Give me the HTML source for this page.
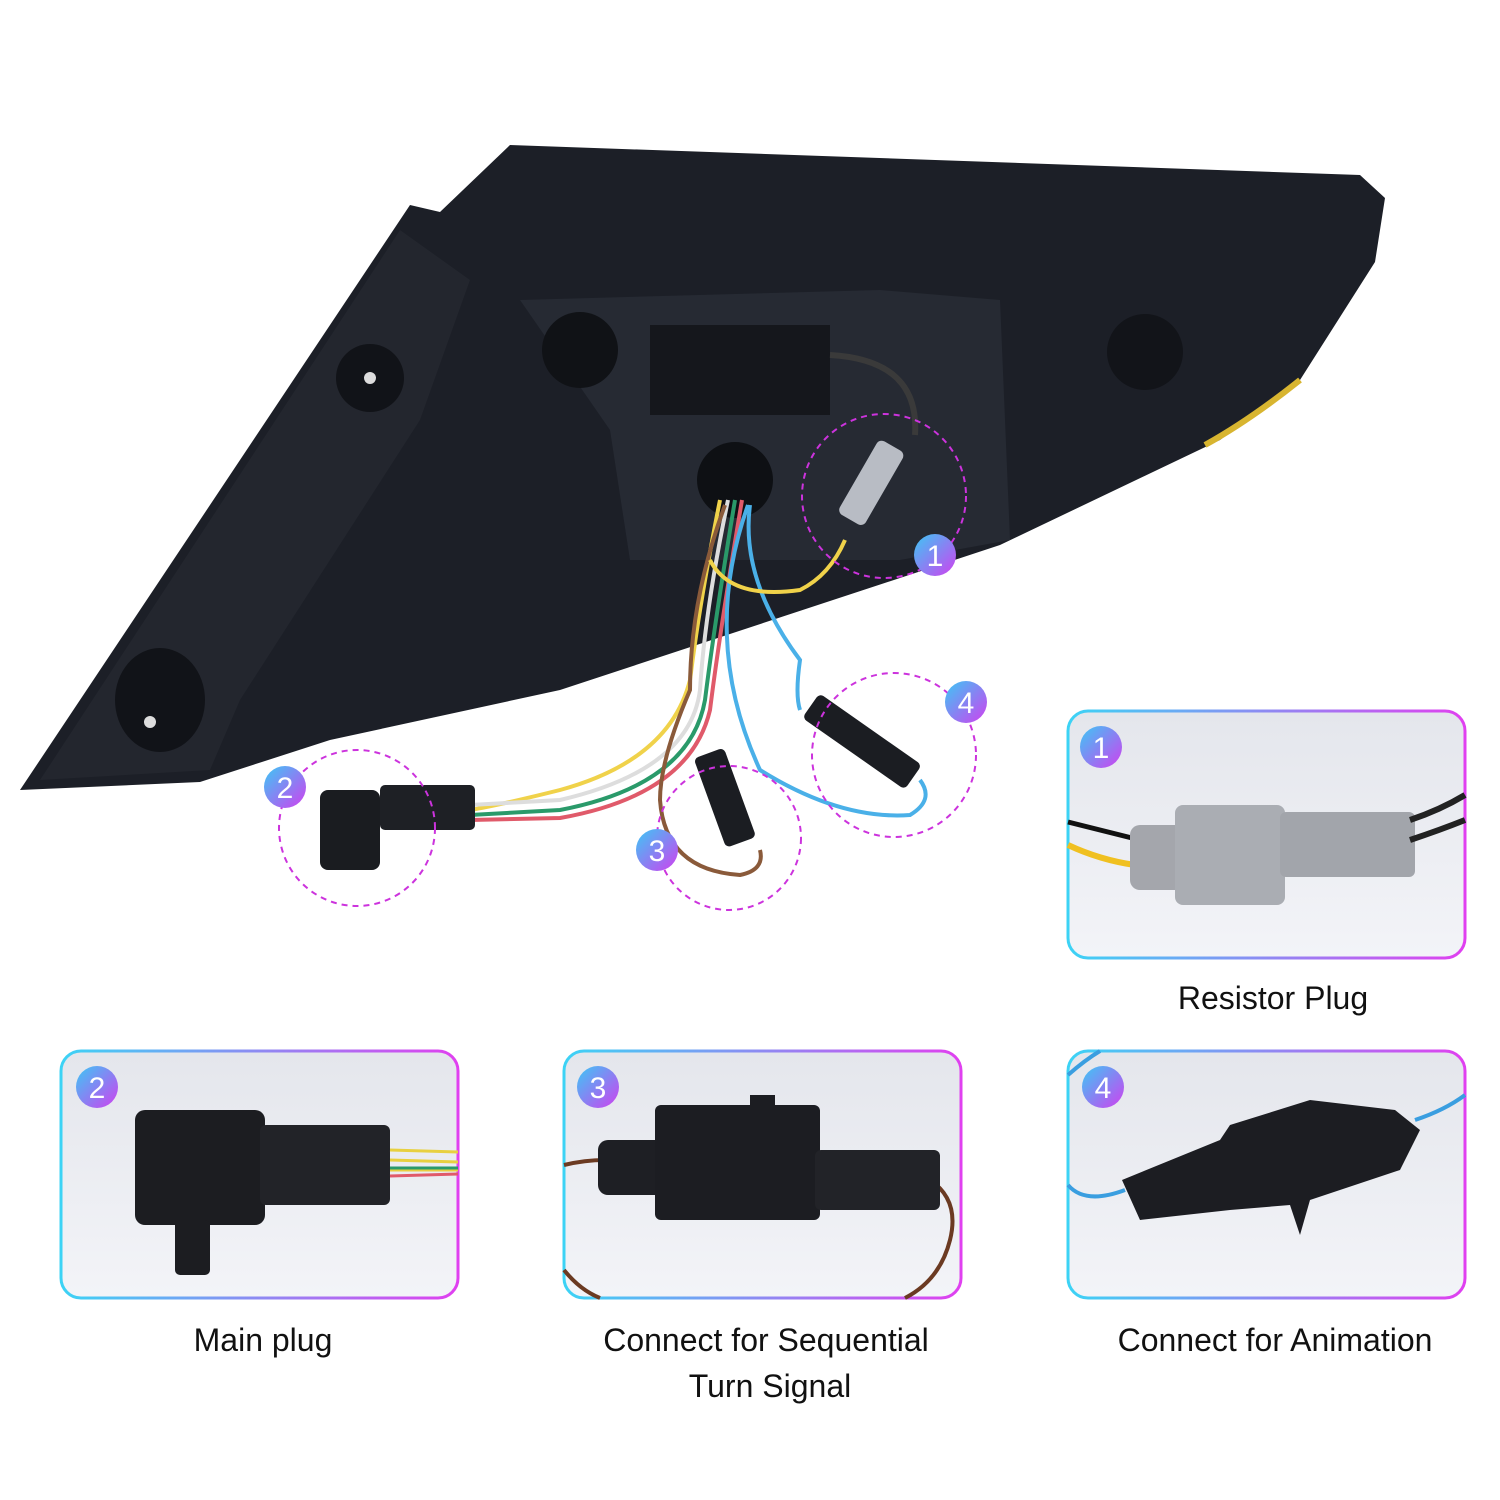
<!DOCTYPE html>
<html><head><meta charset="utf-8"><style>
html,body{margin:0;padding:0;background:#fff;}
svg{display:block}
text{font-family:"Liberation Sans","DejaVu Sans",sans-serif;}
</style></head><body>
<svg width="1500" height="1500" viewBox="0 0 1500 1500" xmlns="http://www.w3.org/2000/svg">
<defs>
<linearGradient id="bd" x1="0" y1="0" x2="1" y2="0"><stop offset="0" stop-color="#3cd3f5"/><stop offset="1" stop-color="#e040f0"/></linearGradient>
<linearGradient id="bg" x1="0" y1="0" x2="1" y2="1"><stop offset="0" stop-color="#3cc8f5"/><stop offset="1" stop-color="#d040f0"/></linearGradient>
<linearGradient id="pn" x1="0" y1="0" x2="0" y2="1"><stop offset="0" stop-color="#e4e6ec"/><stop offset="1" stop-color="#f3f4f8"/></linearGradient>
<g id="badge"><circle r="21" fill="url(#bg)"/></g>
</defs>
<rect width="1500" height="1500" fill="#fff"/>
<!-- tail light body -->
<polygon points="20,790 410,205 440,212 510,145 1360,175 1385,198 1375,262 1300,380 1220,440 1000,545 560,690 330,740 200,782" fill="#1c1f27"/>
<polygon points="40,780 400,230 470,280 420,420 240,700 210,770" fill="#23262e"/>
<polygon points="520,300 880,290 1000,300 1010,540 900,560 630,560 610,430" fill="#262a33"/>
<rect x="650" y="325" width="180" height="90" fill="#15171c"/>
<circle cx="580" cy="350" r="38" fill="#101216"/>
<circle cx="1145" cy="352" r="38" fill="#121419"/>
<circle cx="370" cy="378" r="34" fill="#111318"/>
<circle cx="370" cy="378" r="6" fill="#ddd"/>
<ellipse cx="160" cy="700" rx="45" ry="52" fill="#111318"/>
<circle cx="150" cy="722" r="6" fill="#ddd"/>
<circle cx="735" cy="480" r="38" fill="#0e1014"/>
<path d="M1300,380 Q1250,420 1205,445" stroke="#d8b530" stroke-width="6" fill="none"/>
<!-- wires -->
<g fill="none" stroke-width="4">
<path d="M720,500 Q700,600 690,680 Q670,760 560,790 Q500,805 470,810" stroke="#f0d24a"/>
<path d="M728,500 Q705,610 700,690 Q690,770 560,800 L470,805" stroke="#ddd"/>
<path d="M735,500 Q715,620 705,700 Q690,785 560,810 L470,815" stroke="#2a9a6a"/>
<path d="M742,500 Q720,630 710,710 Q690,795 560,818 L470,820" stroke="#e05a6a"/>
<path d="M725,505 Q690,600 690,690 Q660,760 660,800 Q665,870 740,875 Q765,870 760,850" stroke="#8a5a3a"/>
<path d="M748,505 Q700,640 760,770 Q840,820 910,815 Q935,800 920,780" stroke="#4ab0e8"/>
<path d="M750,505 Q740,580 800,660 Q795,695 800,710" stroke="#4ab0e8"/>
<path d="M710,560 Q730,600 800,590 Q830,575 845,540" stroke="#f0d24a"/>
<path d="M830,355 Q920,360 915,435" stroke="#3a3a3a" stroke-width="6"/>
</g>
<!-- connectors on main -->
<g transform="rotate(-60 870 485)"><rect x="830" y="470" width="85" height="30" rx="6" fill="#b8bcc4"/></g>
<rect x="320" y="790" width="60" height="80" rx="8" fill="#1a1c20"/>
<rect x="380" y="785" width="95" height="45" rx="5" fill="#1e2025"/>
<g transform="rotate(70 725 795)"><rect x="680" y="780" width="95" height="32" rx="5" fill="#1b1d22"/></g>
<g transform="rotate(35 860 740)"><rect x="800" y="725" width="125" height="30" rx="5" fill="#1b1d22"/></g>
<!-- dashed circles -->
<g fill="none" stroke="#cc33dd" stroke-width="2" stroke-dasharray="6,5">
<circle cx="884" cy="496" r="82"/><circle cx="357" cy="828" r="78"/><circle cx="729" cy="838" r="72"/><circle cx="894" cy="755" r="82"/>
</g>
<!-- panels -->
<g stroke="url(#bd)" stroke-width="3" fill="url(#pn)">
<rect x="1068" y="711" width="397" height="247" rx="20"/>
<rect x="61" y="1051" width="397" height="247" rx="20"/>
<rect x="564" y="1051" width="397" height="247" rx="20"/>
<rect x="1068" y="1051" width="397" height="247" rx="20"/>
</g>
<!-- panel 1 content -->
<path d="M1068,822 Q1100,830 1140,840" stroke="#111" stroke-width="5" fill="none"/>
<path d="M1068,845 Q1100,860 1135,865" stroke="#f0c020" stroke-width="6" fill="none"/>
<rect x="1130" y="825" width="60" height="65" rx="10" fill="#a4a6ac"/>
<rect x="1175" y="805" width="110" height="100" rx="8" fill="#aaadb3"/>
<rect x="1280" y="812" width="135" height="65" rx="6" fill="#a2a5ab"/>
<path d="M1410,820 Q1440,810 1465,795 M1410,840 Q1440,830 1465,820" stroke="#222" stroke-width="6" fill="none"/>
<!-- panel 2 -->
<rect x="135" y="1110" width="130" height="115" rx="10" fill="#1c1d21"/>
<rect x="260" y="1125" width="130" height="80" rx="6" fill="#222328"/>
<rect x="175" y="1220" width="35" height="55" rx="5" fill="#1c1d21"/>
<path d="M390,1150 L458,1152 M390,1160 L458,1162 M390,1170 L458,1170" stroke="#e8d040" stroke-width="3"/>
<path d="M390,1168 L458,1168" stroke="#2a9a6a" stroke-width="3"/><path d="M390,1176 L458,1174" stroke="#e05a6a" stroke-width="3"/>
<!-- panel 3 -->
<path d="M564,1165 Q585,1160 605,1160" stroke="#6b3a22" stroke-width="4" fill="none"/>
<path d="M930,1180 Q960,1200 950,1240 Q940,1280 905,1298" stroke="#6b3a22" stroke-width="4" fill="none"/>
<path d="M564,1270 Q580,1290 600,1298" stroke="#6b3a22" stroke-width="4" fill="none"/>
<rect x="598" y="1140" width="70" height="55" rx="10" fill="#1e1f24"/>
<rect x="655" y="1105" width="165" height="115" rx="6" fill="#1c1d22"/>
<rect x="750" y="1095" width="25" height="50" fill="#1c1d22"/>
<rect x="815" y="1150" width="125" height="60" rx="6" fill="#222328"/>
<!-- panel 4 -->
<path d="M1068,1185 Q1085,1205 1125,1190 M1415,1120 Q1445,1110 1465,1095 M1068,1075 Q1085,1060 1100,1051" stroke="#3a9ee0" stroke-width="4" fill="none"/>
<polygon points="1122,1180 1220,1140 1230,1125 1310,1100 1395,1110 1420,1130 1400,1170 1310,1200 1300,1235 1290,1205 1230,1210 1140,1220" fill="#1c1d22"/>
<!-- badges -->
<g font-size="30" fill="#fff" text-anchor="middle">
<use href="#badge" x="935" y="555"/><text x="935" y="566">1</text>
<use href="#badge" x="285" y="787"/><text x="285" y="798">2</text>
<use href="#badge" x="657" y="850"/><text x="657" y="861">3</text>
<use href="#badge" x="966" y="702"/><text x="966" y="713">4</text>
<use href="#badge" x="1101" y="747"/><text x="1101" y="758">1</text>
<use href="#badge" x="97" y="1087"/><text x="97" y="1098">2</text>
<use href="#badge" x="598" y="1087"/><text x="598" y="1098">3</text>
<use href="#badge" x="1103" y="1087"/><text x="1103" y="1098">4</text>
</g>
<g font-size="32" fill="#111" text-anchor="middle">
<text x="1273" y="1009">Resistor Plug</text>
<text x="263" y="1351">Main plug</text>
<text x="766" y="1351">Connect for Sequential</text>
<text x="770" y="1397">Turn Signal</text>
<text x="1275" y="1351">Connect for Animation</text>
</g>
</svg>
</body></html>
